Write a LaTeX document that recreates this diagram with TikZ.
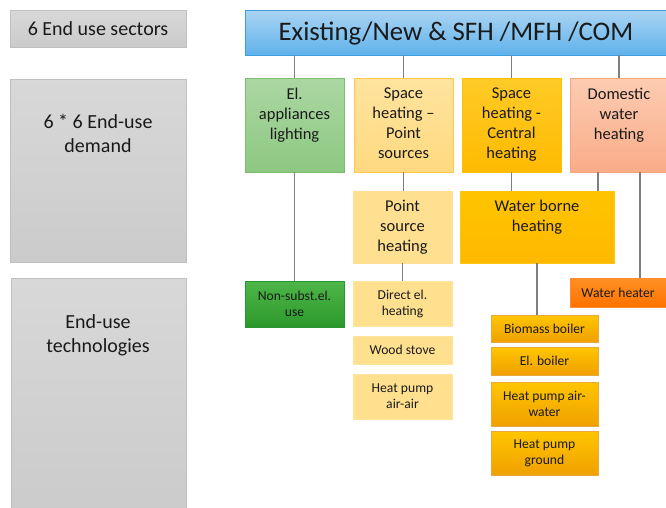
\documentclass[tikz,border=0pt]{standalone}
\usepackage{fontspec}
\setmainfont{Carlito}
\usetikzlibrary{fit}
\definecolor{txt}{HTML}{1A1A1A}
\definecolor{conncol}{HTML}{7F7F7F}
\tikzset{
  bx/.style={inner sep=0pt, draw, line width=0.8pt},
  graybox/.style={bx, draw={rgb,255:red,192;green,192;blue,192}, top color={rgb,255:red,216;green,216;blue,216}, bottom color={rgb,255:red,203;green,203;blue,203}},
  bluebox/.style={bx, draw={rgb,255:red,61;green,157;blue,223}, top color={rgb,255:red,170;green,212;blue,243}, bottom color={rgb,255:red,96;green,178;blue,235}},
  greenbox/.style={bx, draw={rgb,255:red,122;green,192;blue,108}, top color={rgb,255:red,171;green,215;blue,162}, bottom color={rgb,255:red,141;green,200;blue,130}},
  ptbox/.style={bx, draw={rgb,255:red,255;green,201;blue,74}, top color={rgb,255:red,255;green,228;blue,158}, bottom color={rgb,255:red,255;green,217;blue,128}},
  centbox/.style={bx, draw={rgb,255:red,255;green,192;blue,0}, top color={rgb,255:red,255;green,203;blue,40}, bottom color={rgb,255:red,255;green,186;blue,0}},
  domebox/.style={bx, draw={rgb,255:red,244;green,165;blue,124}, top color={rgb,255:red,253;green,204;blue,178}, bottom color={rgb,255:red,249;green,172;blue,136}},
  ptheat/.style={bx, draw={rgb,255:red,255;green,222;blue,150}, fill={rgb,255:red,255;green,224;blue,144}},
  wbbox/.style={bx, draw={rgb,255:red,255;green,196;blue,20}, top color={rgb,255:red,255;green,196;blue,0}, bottom color={rgb,255:red,255;green,185;blue,0}},
  nsbox/.style={bx, draw={rgb,255:red,40;green,150;blue,50}, top color={rgb,255:red,78;green,182;blue,72}, bottom color={rgb,255:red,44;green,152;blue,44}},
  litebox/.style={bx, draw={rgb,255:red,255;green,228;blue,160}, fill={rgb,255:red,255;green,224;blue,143}},
  techbox/.style={bx, draw={rgb,255:red,232;green,168;blue,60}, top color={rgb,255:red,255;green,198;blue,0}, bottom color={rgb,255:red,240;green,160;blue,0}},
  whbox/.style={bx, draw={rgb,255:red,255;green,140;blue,50}, top color={rgb,255:red,255;green,145;blue,36}, bottom color={rgb,255:red,255;green,114;blue,0}},
  tx/.style={text=txt, align=center, inner sep=0pt, anchor=north},
  tmid/.style={font=\fontsize{16.5}{20}\selectfont},
  tsmall/.style={font=\fontsize{13.6}{16}\selectfont},
  tgray/.style={font=\fontsize{20}{24}\selectfont},
  conn/.style={draw=conncol, line width=1.3pt},
}
\begin{document}
\begin{tikzpicture}[x=1pt,y=-1pt]
\useasboundingbox (0,0) rectangle (666,507);
% left gray column
\node[graybox, fit={(10,10)(186,47)}] (g1) {};
\node[text=txt, inner sep=0pt, font=\fontsize{20}{24}\selectfont] (g1t) at (g1.center) {6 End use sectors};
\node[graybox, fit={(10,79)(186,262)}] (g2) {};
\node[tx, tgray] (g2t) at (98,114) {6 * 6 End-use\\demand};
\node[graybox, fit={(11,278)(186,515)}] (g3) {};
\node[tx, tgray] (g3t) at (98,314) {End-use\\technologies};
% title
\node[bluebox, fit={(245,10)(668,55)}] (top) {};
\node[text=txt, inner sep=0pt, font=\fontsize{26.8}{30}\selectfont] (topt) at (456,33) {Existing/New \& SFH /MFH /COM};
% demand row
\node[greenbox, fit={(245,78)(344,172)}] (el) {};
\node[tx, tmid] (elt) at (el.north |- 0,88) {El.\\appliances\\lighting};
\node[ptbox, fit={(354,78)(453,172)}] (sp) {};
\node[tx, tmid] (spt) at (sp.north |- 0,88) {Space\\heating --\\Point\\sources};
\node[centbox, fit={(462,78)(561,172)}] (sc) {};
\node[tx, tmid] (sct) at (sc.north |- 0,88) {Space\\heating -\\Central\\heating};
\node[domebox, fit={(570,78)(668,172)}] (dw) {};
\node[tx, tmid] (dwt) at (619,88) {Domestic\\water\\heating};
% second row
\node[ptheat, fit={(353,191)(452,263)}] (psh) {};
\node[tx, tmid] (psht) at (psh.north |- 0,200) {Point\\source\\heating};
\node[wbbox, fit={(460,191)(614,263)}] (wb) {};
\node[tx, tmid] (wbt) at (wb.north |- 0,200) {Water borne\\heating};
% technologies
\node[nsbox, fit={(245,281)(344,327)}] (ns) {};
\node[tx, tsmall, anchor=center] (nst) at (ns.center) {Non-subst.el.\\use};
\node[litebox, fit={(353,281)(452,326)}] (de) {};
\node[tx, tsmall, anchor=center] (det) at (de.center) {Direct el.\\heating};
\node[litebox, fit={(353,336)(452,364)}] (ws) {};
\node[tx, tsmall, anchor=center] (wst) at (ws.center) {Wood stove};
\node[litebox, fit={(353,374)(452,419)}] (hpa) {};
\node[tx, tsmall, anchor=center] (hpat) at (hpa.center) {Heat pump\\air-air};
\node[whbox, fit={(570,278)(668,307)}] (wh) {};
\node[tx, tsmall, anchor=center] (wht) at (618,292.5) {Water heater};
\node[techbox, fit={(491,315)(598,342)}] (bb) {};
\node[tx, tsmall, anchor=center] (bbt) at (bb.center) {Biomass boiler};
\node[techbox, fit={(491,347)(598,375)}] (eb) {};
\node[tx, tsmall, anchor=center] (ebt) at (eb.center) {El. boiler};
\node[techbox, fit={(491,382)(598,426)}] (hpw) {};
\node[tx, tsmall, anchor=center] (hpwt) at (hpw.center) {Heat pump air-\\water};
\node[techbox, fit={(491,431)(598,475)}] (hpg) {};
\node[tx, tsmall, anchor=center] (hpgt) at (hpg.center) {Heat pump\\ground};
% connector anchor x positions
\coordinate (xdw) at (619,0);
\coordinate (xd1) at (598,0);
\coordinate (xd2) at (640,0);
% connectors
\draw[conn] (el.north |- top.south) -- (el.north);
\draw[conn] (sp.north |- top.south) -- (sp.north);
\draw[conn] (sc.north |- top.south) -- (sc.north);
\draw[conn] (xdw |- top.south) -- (xdw |- dw.north);
\draw[conn] (el.south) -- (ns.north -| el.south);
\draw[conn] (sp.south) -- (sp.south |- psh.north);
\draw[conn] (sc.south) -- (sc.south |- wb.north);
\draw[conn] (xd1 |- dw.south) -- (xd1 |- wb.north);
\draw[conn] (xd2 |- dw.south) -- (xd2 |- wh.north);
\draw[conn] (psh.south) -- (psh.south |- de.north);
\draw[conn] (wb.south) -- (wb.south |- bb.north);
\end{tikzpicture}
\end{document}
